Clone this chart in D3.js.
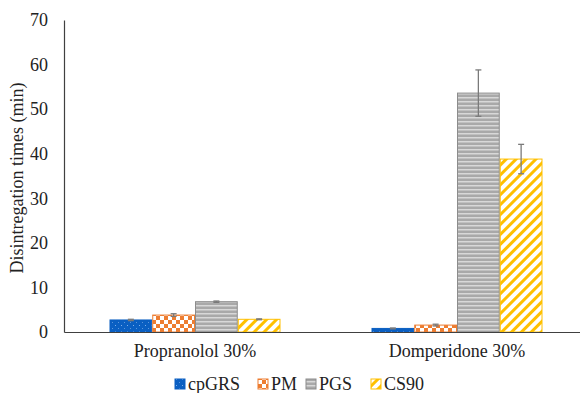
<!DOCTYPE html>
<html>
<head>
<meta charset="utf-8">
<script src="https://cdn.jsdelivr.net/npm/d3@7"></script>
<style>
  html, body { margin: 0; padding: 0; background: #fff; }
  svg text { font-family: "Liberation Serif", "Times New Roman", serif; }
</style>
</head>
<body>
<svg id="chart" width="580" height="393"></svg>
<script>
// Disintegration times by formulation and drug
const categories = ["Propranolol 30%", "Domperidone 30%"];
const seriesNames = ["cpGRS", "PM", "PGS", "CS90"];
const cpGRS = [2.7, 0.8];
const PM = [3.8, 1.55];
const PGS = [6.8, 53.6];
const CS90 = [2.85, 38.8];
const cpGRSErr = [0.15, 0.1];
const PMErr = [0.3, 0.2];
const PGSErr = [0.15, 5.2];
const CS90Err = [0.1, 3.3];
const yTicks = [0, 10, 20, 30, 40, 50, 60, 70];

const values = [cpGRS, PM, PGS, CS90];
const errors = [cpGRSErr, PMErr, PGSErr, CS90Err];

const serif = '"Liberation Serif", "Times New Roman", serif';
const svg = d3.select("#chart");
const margin = { left: 64, top: 20, bottom: 61 };
const height = 393;
const plotBottom = height - margin.bottom; // 332

const x = d3.scaleBand().domain(categories).range([64, 588]).paddingInner(0).paddingOuter(0);
const x1 = d3.scaleBand().domain(seriesNames).range([0, 171]);
const groupOffset = (x.bandwidth() - 171) / 2;
const y = d3.scaleLinear().domain([0, 70]).range([plotBottom, margin.top]);

// Fill patterns
const defs = svg.append("defs");

const pBlue = defs.append("pattern").attr("id", "pat-cpGRS")
  .attr("patternUnits", "userSpaceOnUse").attr("width", 6).attr("height", 6);
pBlue.append("rect").attr("width", 6).attr("height", 6).attr("fill", "#0a5fc2");
pBlue.append("rect").attr("x", 1).attr("y", 1).attr("width", 1).attr("height", 1).attr("fill", "#7fb0ea");
pBlue.append("rect").attr("x", 4).attr("y", 4).attr("width", 1).attr("height", 1).attr("fill", "#5a95dc");

const pOrange = defs.append("pattern").attr("id", "pat-PM")
  .attr("patternUnits", "userSpaceOnUse").attr("width", 8).attr("height", 8);
pOrange.append("rect").attr("width", 8).attr("height", 8).attr("fill", "#fff");
pOrange.append("rect").attr("width", 4).attr("height", 4).attr("fill", "#ed7d31");
pOrange.append("rect").attr("x", 4).attr("y", 4).attr("width", 4).attr("height", 4).attr("fill", "#ed7d31");

const pGray = defs.append("pattern").attr("id", "pat-PGS")
  .attr("patternUnits", "userSpaceOnUse").attr("width", 4).attr("height", 4);
pGray.append("rect").attr("width", 4).attr("height", 4).attr("fill", "#a9a9a9");
pGray.append("rect").attr("y", 1).attr("width", 4).attr("height", 1.5).attr("fill", "#d8d8d8");

const pGold = defs.append("pattern").attr("id", "pat-CS90")
  .attr("patternUnits", "userSpaceOnUse").attr("width", 7).attr("height", 7)
  .attr("patternTransform", "rotate(45)");
pGold.append("rect").attr("width", 7).attr("height", 7).attr("fill", "#fff");
pGold.append("rect").attr("width", 3).attr("height", 7).attr("fill", "#ffc000");

const fills = { cpGRS: "url(#pat-cpGRS)", PM: "url(#pat-PM)", PGS: "url(#pat-PGS)", CS90: "url(#pat-CS90)" };
const strokes = { cpGRS: "#0a5fc2", PM: "#ed7d31", PGS: "#8c8c8c", CS90: "#ffc000" };

// Y axis
const yAxis = d3.axisLeft(y).tickValues(yTicks).tickSize(0).tickPadding(16).tickFormat(d3.format("d"));
const gy = svg.append("g").attr("transform", `translate(${margin.left},0)`).call(yAxis)
  .attr("font-family", serif).attr("font-size", 18);
gy.select(".domain").attr("stroke", "#404040").attr("stroke-width", 1.2);
gy.selectAll("text").attr("fill", "#222");

// Bars
seriesNames.forEach((s, si) => {
  const g = svg.append("g");
  categories.forEach((c, ci) => {
    const v = values[si][ci];
    const bx = x(c) + groupOffset + x1(s);
    g.append("rect")
      .attr("x", bx + 0.5).attr("y", y(v))
      .attr("width", x1.bandwidth() - 1).attr("height", plotBottom - y(v))
      .attr("fill", fills[s]).attr("stroke", strokes[s]).attr("stroke-width", 1);
    // error bar
    const cx = bx + x1.bandwidth() / 2;
    const e = errors[si][ci];
    const eg = svg.append("g").attr("stroke", "#7a7a7a").attr("stroke-width", 1.3);
    eg.append("line").attr("x1", cx).attr("x2", cx).attr("y1", y(v - e)).attr("y2", y(v + e));
    eg.append("line").attr("x1", cx - 3).attr("x2", cx + 3).attr("y1", y(v + e)).attr("y2", y(v + e));
    eg.append("line").attr("x1", cx - 3).attr("x2", cx + 3).attr("y1", y(v - e)).attr("y2", y(v - e));
  });
});

// X axis
const xAxis = d3.axisBottom(x).tickSize(0).tickPadding(12);
const gx = svg.append("g").attr("transform", `translate(0,${plotBottom})`).call(xAxis)
  .attr("font-family", serif).attr("font-size", 18);
gx.select(".domain").attr("stroke", "#404040").attr("stroke-width", 1.2);
gx.selectAll("text").attr("fill", "#222");

// Y axis title
svg.append("text")
  .attr("transform", `translate(23,${(plotBottom + margin.top) / 2 + 2}) rotate(-90)`)
  .attr("text-anchor", "middle").attr("font-size", 18).attr("fill", "#222")
  .text("Disintregation times (min)");

// Legend
const legendX = [175, 258, 306, 371];
const legend = svg.append("g").attr("transform", "translate(0,384)");
seriesNames.forEach((s, i) => {
  const lg = legend.append("g").attr("transform", `translate(${legendX[i]},0)`);
  lg.append("rect").attr("x", 0).attr("y", -5).attr("width", 10).attr("height", 10)
    .attr("fill", fills[s]).attr("stroke", strokes[s]).attr("stroke-width", 1);
  lg.append("text").attr("x", 13).attr("y", 6).attr("font-size", 18).attr("fill", "#222").text(s);
});
</script>
</body>
</html>
